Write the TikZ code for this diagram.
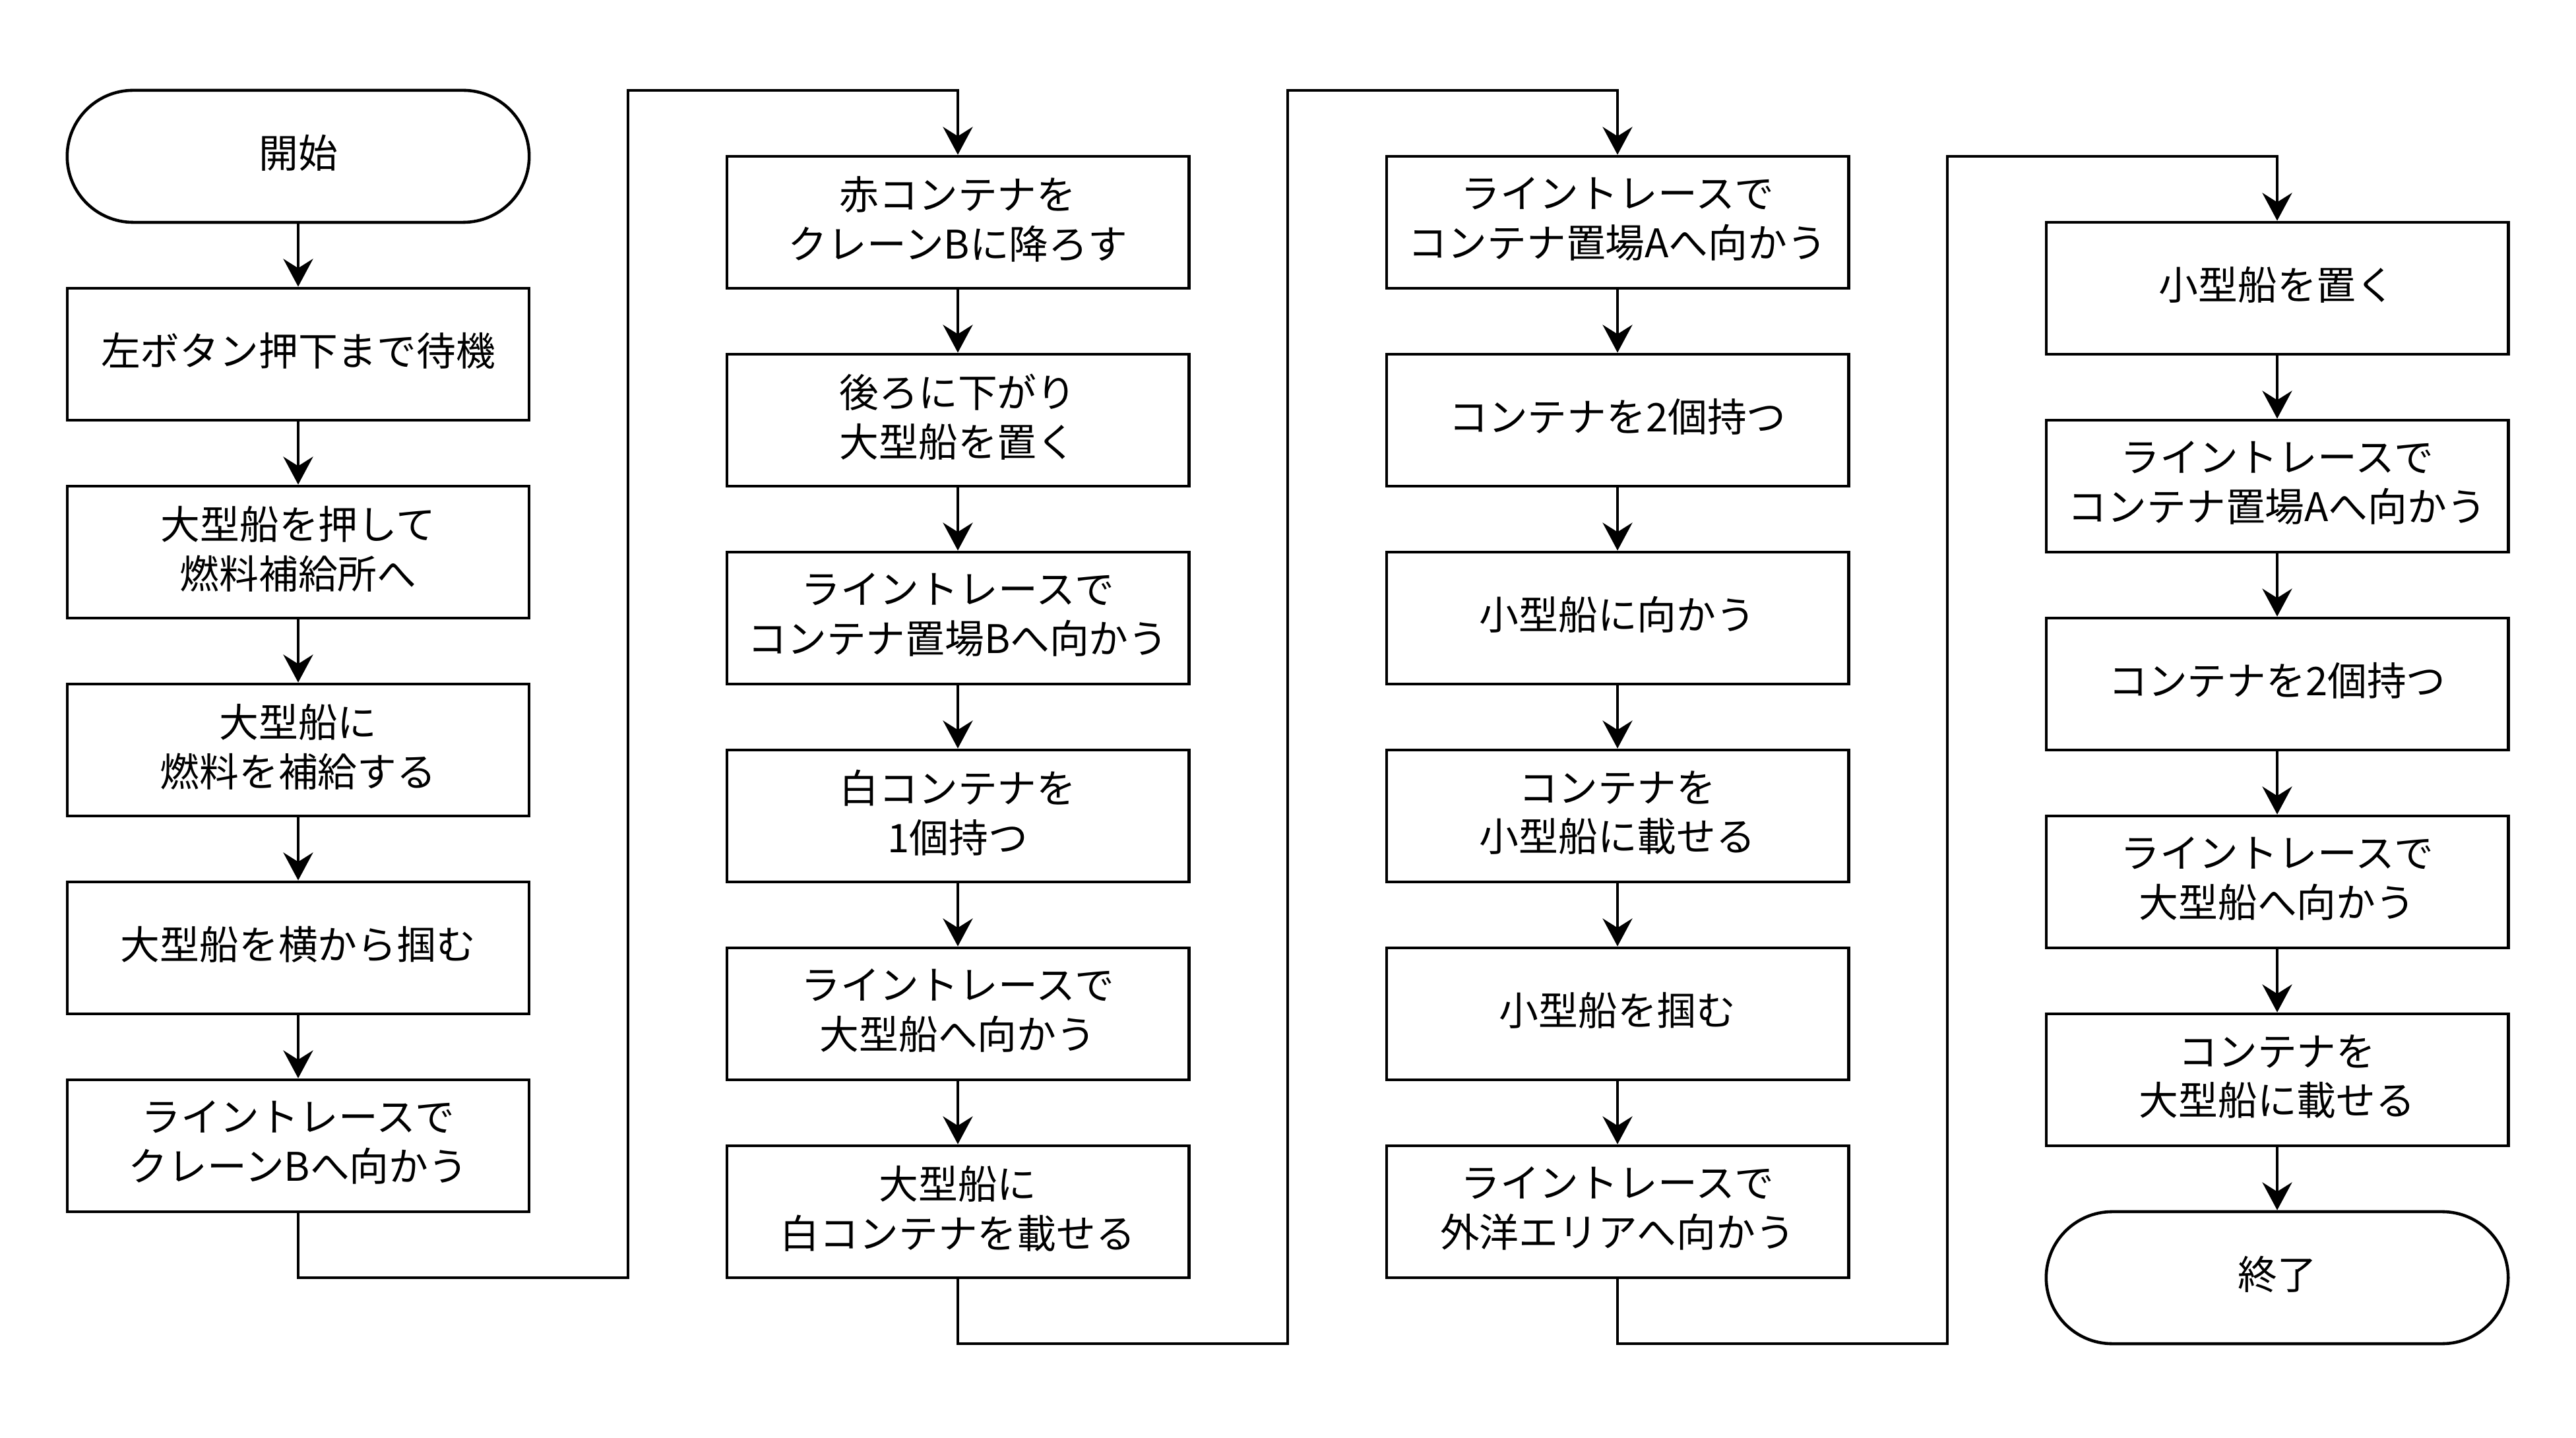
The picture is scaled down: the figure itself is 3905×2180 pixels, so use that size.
\documentclass[tikz,border=0pt]{standalone}
\usepackage{fontspec}
\setmainfont{Noto Sans CJK JP}
\usetikzlibrary{arrows.meta}
\tikzset{
  box/.style={draw, line width=1.3pt, minimum width=7cm, minimum height=2cm, align=center, inner sep=0pt,
    text depth=4.2pt, font=\fontsize{17pt}{21.3pt}\selectfont},
  term/.style={box, rounded corners=1cm},
  arr/.style={draw, line width=1.3pt, -{Stealth[length=12pt, width=12.8pt, inset=4pt]}},
}
\begin{document}
\begin{tikzpicture}[x=0.01cm, y=-0.01cm]
\useasboundingbox[fill=white] (0,0) rectangle (3905,2180);
% column 1
\node[term] (a0) at (452,237) {開始};
\node[box] (a1) at (452,537) {左ボタン押下まで待機};
\node[box] (a2) at (452,837) {大型船を押して\\燃料補給所へ};
\node[box] (a3) at (452,1137) {大型船に\\燃料を補給する};
\node[box] (a4) at (452,1437) {大型船を横から掴む};
\node[box] (a5) at (452,1737) {ライントレースで\\クレーンBへ向かう};
% column 2
\node[box] (b1) at (1452,337) {赤コンテナを\\クレーンBに降ろす};
\node[box] (b2) at (1452,637) {後ろに下がり\\大型船を置く};
\node[box] (b3) at (1452,937) {ライントレースで\\コンテナ置場Bへ向かう};
\node[box] (b4) at (1452,1237) {白コンテナを\\1個持つ};
\node[box] (b5) at (1452,1537) {ライントレースで\\大型船へ向かう};
\node[box] (b6) at (1452,1837) {大型船に\\白コンテナを載せる};
% column 3
\node[box] (c1) at (2452,337) {ライントレースで\\コンテナ置場Aへ向かう};
\node[box] (c2) at (2452,637) {コンテナを2個持つ};
\node[box] (c3) at (2452,937) {小型船に向かう};
\node[box] (c4) at (2452,1237) {コンテナを\\小型船に載せる};
\node[box] (c5) at (2452,1537) {小型船を掴む};
\node[box] (c6) at (2452,1837) {ライントレースで\\外洋エリアへ向かう};
% column 4
\node[box] (d1) at (3452,437) {小型船を置く};
\node[box] (d2) at (3452,737) {ライントレースで\\コンテナ置場Aへ向かう};
\node[box] (d3) at (3452,1037) {コンテナを2個持つ};
\node[box] (d4) at (3452,1337) {ライントレースで\\大型船へ向かう};
\node[box] (d5) at (3452,1637) {コンテナを\\大型船に載せる};
\node[term] (d6) at (3452,1937) {終了};
% junction points
\coordinate (j1) at (952,1937);
\coordinate (k1) at (952,137);
\coordinate (j2) at (1952,2037);
\coordinate (k2) at (1952,137);
\coordinate (j3) at (2952,2037);
\coordinate (k3) at (2952,237);
% connectors
\foreach \p/\q in {a0/a1,a1/a2,a2/a3,a3/a4,a4/a5,
                   b1/b2,b2/b3,b3/b4,b4/b5,b5/b6,
                   c1/c2,c2/c3,c3/c4,c4/c5,c5/c6,
                   d1/d2,d2/d3,d3/d4,d4/d5,d5/d6}
  \draw[arr] (\p) -- (\q);
\draw[arr] (a5.south) |- (j1) -- (k1) -| (b1.north);
\draw[arr] (b6.south) |- (j2) -- (k2) -| (c1.north);
\draw[arr] (c6.south) |- (j3) -- (k3) -| (d1.north);
\end{tikzpicture}
\end{document}
